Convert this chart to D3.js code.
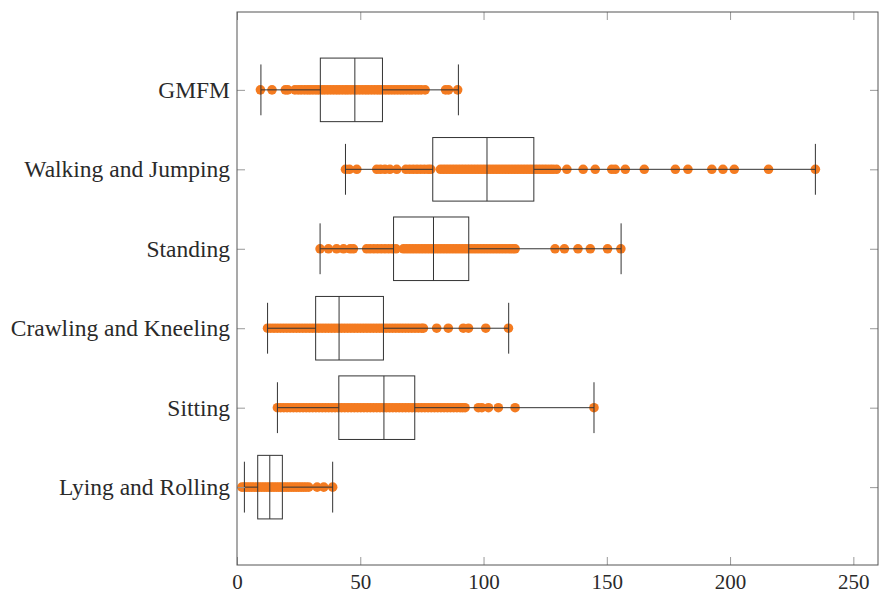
<!DOCTYPE html>
<html>
<head>
<meta charset="utf-8">
<script src="https://cdn.jsdelivr.net/npm/d3@7"></script>
<style>
  body { margin: 0; background: #fff; }
  svg text { font-family: "Liberation Serif", "Times New Roman", serif; fill: #222; }
</style>
</head>
<body>
<div id="myPlot"></div>
<script>
// Categories, top to bottom
const categories = ["GMFM", "Walking and Jumping", "Standing", "Crawling and Kneeling", "Sitting", "Lying and Rolling"];

// Box statistics
const whiskerLow  = [9.7, 44.0, 33.7, 12.4, 16.4, 3.0];
const lowerQuart  = [33.8, 79.4, 63.5, 31.9, 41.3, 8.4];
const medians     = [47.8, 101.4, 79.7, 41.4, 59.6, 13.3];
const upperQuart  = [59.0, 120.4, 94.0, 59.4, 72.1, 18.4];
const whiskerHigh = [89.8, 234.6, 155.8, 110.2, 144.8, 38.8];

// Individual observations per category
const gmfmPts = [9.5, 14.2, 19.6, 20.6, 23.5, 24.8, 26.0, 27.3, 28.5, 29.6, 30.8, 32.0, 33.1, 34.5,
  35.6, 36.8, 38.0, 39.2, 40.4, 41.5, 42.7, 43.9, 45.0, 46.2, 47.5, 48.6, 49.8, 51.0, 52.2, 53.3,
  54.5, 55.7, 56.9, 58.0, 59.2, 60.4, 61.6, 62.8, 64.0, 65.2, 66.4, 67.5, 68.7, 69.9, 71.0, 72.3,
  73.5, 74.7, 76.3, 84.6, 85.8, 89.5];
const walkPts = [44.0, 45.6, 48.6, 56.7, 58.2, 60.0, 62.0, 64.8, 68.5, 70.0, 71.5, 73.0, 74.5, 76.0,
  77.5, 78.6, 82.5, 83.7, 84.9, 86.1, 87.3, 88.5, 89.7, 90.9, 92.1, 93.3, 94.5, 95.7, 96.9, 98.1,
  99.3, 100.5, 101.7, 102.9, 104.1, 105.3, 106.5, 107.7, 108.9, 110.1, 111.3, 112.5, 113.7, 114.9,
  116.1, 117.3, 118.5, 119.7, 120.9, 122.1, 123.3, 124.5, 125.7, 127.0, 128.2, 129.6, 133.8,
  140.4, 145.3, 152.0, 153.4, 157.5, 165.2, 177.8, 182.9, 192.6, 197.1, 201.7, 215.6, 234.6];
const standPts = [33.7, 37.1, 40.4, 43.2, 45.9, 47.2, 52.6, 54.0, 55.5, 57.0, 58.5, 60.0, 61.5, 63.0,
  64.5, 67.5, 68.7, 69.9, 71.1, 72.3, 73.5, 74.7, 75.9, 77.1, 78.3, 79.5, 80.7, 81.9, 83.1, 84.3,
  85.5, 86.7, 87.9, 89.1, 90.3, 91.5, 92.7, 93.9, 95.1, 96.3, 97.5, 98.7, 99.9, 101.1, 102.3,
  103.5, 104.7, 105.9, 107.1, 108.3, 109.5, 110.7, 111.8, 112.8, 129.0, 132.8, 138.3, 143.3,
  150.3, 155.7];
const crawlPts = [12.4, 13.7, 15.0, 16.3, 17.6, 18.9, 20.2, 21.5, 22.8, 24.1, 25.4, 26.7, 28.0, 29.3,
  30.6, 31.9, 33.2, 34.5, 35.8, 37.1, 38.4, 39.7, 41.0, 42.3, 43.6, 44.9, 46.2, 47.5, 48.8, 50.1,
  51.4, 52.7, 54.0, 55.3, 56.6, 57.9, 59.2, 60.5, 61.8, 63.1, 64.4, 65.7, 67.0, 68.3, 69.6, 70.9,
  72.2, 73.5, 74.8, 75.6, 81.0, 85.7, 91.8, 93.9, 100.9, 110.1];
const sitPts = [16.4, 17.7, 19.0, 20.3, 21.6, 22.9, 24.2, 25.5, 26.8, 28.1, 29.4, 30.7, 32.0, 33.3,
  34.6, 35.9, 37.2, 38.5, 39.8, 41.1, 42.4, 43.7, 45.0, 46.3, 47.6, 48.9, 50.2, 51.5, 52.8, 54.1,
  55.4, 56.7, 58.0, 59.3, 60.6, 61.9, 63.2, 64.5, 65.8, 67.1, 68.4, 69.7, 71.0, 72.3, 73.6, 74.9,
  76.2, 77.5, 78.8, 80.1, 81.4, 82.7, 84.0, 85.3, 86.6, 87.9, 89.2, 90.5, 91.5, 92.5, 97.9, 99.3,
  102.0, 106.0, 112.8, 144.8];
const lyingPts = [2.0, 3.0, 4.0, 5.0, 6.0, 7.0, 8.0, 9.0, 10.0, 11.0, 12.0, 13.0, 14.0, 15.0, 16.0,
  17.0, 18.0, 19.0, 20.0, 21.0, 22.0, 23.0, 24.0, 25.0, 26.0, 27.0, 28.0, 29.1, 32.5, 35.2, 38.8];
const points = [gmfmPts, walkPts, standPts, crawlPts, sitPts, lyingPts];

// Axis
const xTicks = [0, 50, 100, 150, 200, 250];
const xDomain = [0, 260];

// Dimensions
const width = 880, height = 597;
const plotLeft = 237, plotRight = 878, plotTop = 12, plotBottom = 565;
const tick = 8;

const svg = d3.select("#myPlot")
  .append("svg")
  .attr("width", width)
  .attr("height", height);

const x = d3.scaleLinear().domain(xDomain).range([plotLeft, plotRight]);
// categories sit at 1..6
const y = d3.scaleLinear().domain([0.02, 6.98]).range([plotTop, plotBottom]);
const yPos = categories.map((c, i) => i + 1);
const boxH = 0.4, capH = 0.32;

// Dots
categories.forEach(function (c, i) {
  svg.append("g")
    .selectAll("circle")
    .data(points[i]).enter()
    .append("circle")
    .attr("cx", d => x(d))
    .attr("cy", y(yPos[i]))
    .attr("r", 4.8)
    .style("fill", "#f47b20");
});

// Boxes
const boxes = svg.append("g")
  .selectAll("g")
  .data(categories).enter()
  .append("g")
  .style("stroke", "#333")
  .style("stroke-width", 1)
  .style("fill", "none");

boxes.append("line")
  .attr("x1", (d, i) => x(whiskerLow[i])).attr("x2", (d, i) => x(lowerQuart[i]))
  .attr("y1", (d, i) => y(yPos[i])).attr("y2", (d, i) => y(yPos[i]));
boxes.append("line")
  .attr("x1", (d, i) => x(upperQuart[i])).attr("x2", (d, i) => x(whiskerHigh[i]))
  .attr("y1", (d, i) => y(yPos[i])).attr("y2", (d, i) => y(yPos[i]));
boxes.append("line")
  .attr("x1", (d, i) => x(whiskerLow[i])).attr("x2", (d, i) => x(whiskerLow[i]))
  .attr("y1", (d, i) => y(yPos[i] - capH)).attr("y2", (d, i) => y(yPos[i] + capH));
boxes.append("line")
  .attr("x1", (d, i) => x(whiskerHigh[i])).attr("x2", (d, i) => x(whiskerHigh[i]))
  .attr("y1", (d, i) => y(yPos[i] - capH)).attr("y2", (d, i) => y(yPos[i] + capH));
boxes.append("rect")
  .attr("x", (d, i) => x(lowerQuart[i]))
  .attr("width", (d, i) => x(upperQuart[i]) - x(lowerQuart[i]))
  .attr("y", (d, i) => y(yPos[i] - boxH))
  .attr("height", (d, i) => y(yPos[i] + boxH) - y(yPos[i] - boxH));
boxes.append("line")
  .attr("x1", (d, i) => x(medians[i])).attr("x2", (d, i) => x(medians[i]))
  .attr("y1", (d, i) => y(yPos[i] - boxH)).attr("y2", (d, i) => y(yPos[i] + boxH));

// Axes
const xb = svg.append("g")
  .attr("transform", "translate(0," + plotBottom + ")")
  .call(d3.axisBottom(x).tickValues(xTicks).tickSize(-tick).tickPadding(9));
const xt = svg.append("g")
  .attr("transform", "translate(0," + plotTop + ")")
  .call(d3.axisTop(x).tickValues(xTicks).tickSize(-tick).tickFormat(""));
const yl = svg.append("g")
  .attr("transform", "translate(" + plotLeft + ",0)")
  .call(d3.axisLeft(y).tickValues(yPos).tickSize(-tick).tickPadding(7)
    .tickFormat(d => categories[d - 1]));
const yr = svg.append("g")
  .attr("transform", "translate(" + plotRight + ",0)")
  .call(d3.axisRight(y).tickValues(yPos).tickSize(-tick).tickFormat(""));

[xb, xt, yl, yr].forEach(function (g) {
  g.select(".domain").remove();
  g.selectAll(".tick line").style("stroke", "#999");
  g.attr("font-family", null);
  g.selectAll("text").style("fill", "#2a2a2a");
});
xb.attr("font-size", 21);
yl.attr("font-size", 23.5);

// Frame
svg.append("rect")
  .attr("x", plotLeft).attr("y", plotTop)
  .attr("width", plotRight - plotLeft).attr("height", plotBottom - plotTop)
  .style("fill", "none")
  .style("stroke", "#555")
  .style("stroke-width", 1);
</script>
</body>
</html>
